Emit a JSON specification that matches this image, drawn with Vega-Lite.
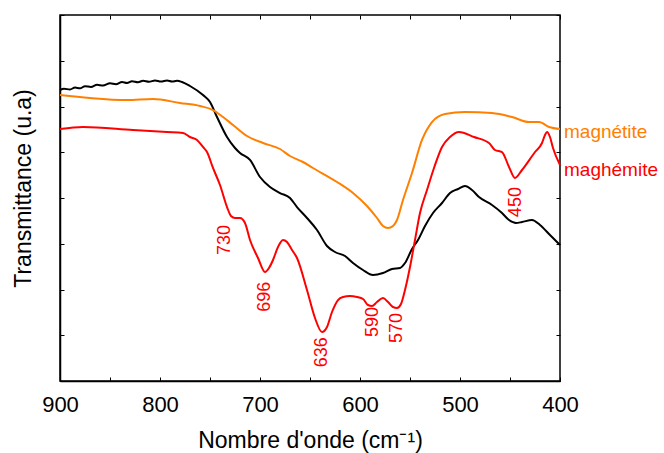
{
  "$schema": "https://vega.github.io/schema/vega-lite/v6.json",
  "width": 500,
  "height": 366,
  "autosize": "none",
  "padding": {"left": 60, "top": 15, "right": 104, "bottom": 72},
  "background": "white",
  "config": {
    "view": {"stroke": "black", "strokeWidth": 1.5},
    "font": "Liberation Sans",
    "axis": {"grid": false, "domainColor": "black", "tickColor": "black", "labelColor": "black", "titleColor": "black", "labelFont": "Liberation Sans", "titleFont": "Liberation Sans", "titleFontWeight": "normal"}
  },
  "datasets": {
    "spectra": [
      {"x": 900, "y": 6.361, "s": "c"}, {"x": 896, "y": 6.387, "s": "c"}, {"x": 890, "y": 6.372, "s": "c"}, {"x": 885, "y": 6.415, "s": "c"}, {"x": 880, "y": 6.398, "s": "c"}, {"x": 875, "y": 6.444, "s": "c"}, {"x": 869, "y": 6.426, "s": "c"}, {"x": 863, "y": 6.474, "s": "c"}, {"x": 857, "y": 6.457, "s": "c"}, {"x": 850, "y": 6.507, "s": "c"}, {"x": 844, "y": 6.487, "s": "c"}, {"x": 838, "y": 6.536, "s": "c"}, {"x": 833, "y": 6.514, "s": "c"}, {"x": 828, "y": 6.553, "s": "c"}, {"x": 822, "y": 6.531, "s": "c"}, {"x": 817, "y": 6.562, "s": "c"}, {"x": 811, "y": 6.540, "s": "c"}, {"x": 805, "y": 6.568, "s": "c"}, {"x": 799, "y": 6.544, "s": "c"}, {"x": 793, "y": 6.568, "s": "c"}, {"x": 788, "y": 6.546, "s": "c"}, {"x": 783, "y": 6.562, "s": "c"}, {"x": 778, "y": 6.536, "s": "c"}, {"x": 770, "y": 6.448, "s": "c"}, {"x": 757, "y": 6.251, "s": "c"}, {"x": 750, "y": 6.098, "s": "c"}, {"x": 743, "y": 5.770, "s": "c"}, {"x": 733, "y": 5.333, "s": "c"}, {"x": 725, "y": 5.093, "s": "c"}, {"x": 720, "y": 4.984, "s": "c"}, {"x": 710, "y": 4.831, "s": "c"}, {"x": 700, "y": 4.459, "s": "c"}, {"x": 690, "y": 4.240, "s": "c"}, {"x": 680, "y": 4.109, "s": "c"}, {"x": 670, "y": 4.000, "s": "c"}, {"x": 663, "y": 3.803, "s": "c"}, {"x": 653, "y": 3.563, "s": "c"}, {"x": 643, "y": 3.301, "s": "c"}, {"x": 633, "y": 2.951, "s": "c"}, {"x": 625, "y": 2.820, "s": "c"}, {"x": 615, "y": 2.732, "s": "c"}, {"x": 607, "y": 2.579, "s": "c"}, {"x": 597, "y": 2.426, "s": "c"}, {"x": 587, "y": 2.317, "s": "c"}, {"x": 577, "y": 2.361, "s": "c"}, {"x": 568, "y": 2.448, "s": "c"}, {"x": 560, "y": 2.470, "s": "c"}, {"x": 555, "y": 2.579, "s": "c"}, {"x": 548, "y": 2.885, "s": "c"}, {"x": 542, "y": 3.082, "s": "c"}, {"x": 535, "y": 3.388, "s": "c"}, {"x": 527, "y": 3.672, "s": "c"}, {"x": 518, "y": 3.891, "s": "c"}, {"x": 510, "y": 4.109, "s": "c"}, {"x": 502, "y": 4.197, "s": "c"}, {"x": 495, "y": 4.262, "s": "c"}, {"x": 488, "y": 4.175, "s": "c"}, {"x": 481, "y": 4.022, "s": "c"}, {"x": 468, "y": 3.847, "s": "c"}, {"x": 458, "y": 3.672, "s": "c"}, {"x": 451, "y": 3.519, "s": "c"}, {"x": 444, "y": 3.454, "s": "c"}, {"x": 438, "y": 3.475, "s": "c"}, {"x": 428, "y": 3.519, "s": "c"}, {"x": 420, "y": 3.410, "s": "c"}, {"x": 410, "y": 3.191, "s": "c"}, {"x": 400, "y": 2.973, "s": "c"},
      {"x": 900, "y": 6.251, "s": "magnetite"}, {"x": 870, "y": 6.186, "s": "magnetite"}, {"x": 833, "y": 6.142, "s": "magnetite"}, {"x": 807, "y": 6.164, "s": "magnetite"}, {"x": 780, "y": 6.077, "s": "magnetite"}, {"x": 760, "y": 6.011, "s": "magnetite"}, {"x": 747, "y": 5.923, "s": "magnetite"}, {"x": 737, "y": 5.770, "s": "magnetite"}, {"x": 727, "y": 5.596, "s": "magnetite"}, {"x": 713, "y": 5.355, "s": "magnetite"}, {"x": 697, "y": 5.202, "s": "magnetite"}, {"x": 680, "y": 5.071, "s": "magnetite"}, {"x": 670, "y": 4.918, "s": "magnetite"}, {"x": 657, "y": 4.787, "s": "magnetite"}, {"x": 647, "y": 4.656, "s": "magnetite"}, {"x": 623, "y": 4.350, "s": "magnetite"}, {"x": 607, "y": 4.109, "s": "magnetite"}, {"x": 593, "y": 3.825, "s": "magnetite"}, {"x": 583, "y": 3.563, "s": "magnetite"}, {"x": 577, "y": 3.388, "s": "magnetite"}, {"x": 572, "y": 3.344, "s": "magnetite"}, {"x": 567, "y": 3.388, "s": "magnetite"}, {"x": 563, "y": 3.519, "s": "magnetite"}, {"x": 557, "y": 3.956, "s": "magnetite"}, {"x": 548, "y": 4.546, "s": "magnetite"}, {"x": 538, "y": 5.268, "s": "magnetite"}, {"x": 528, "y": 5.661, "s": "magnetite"}, {"x": 515, "y": 5.836, "s": "magnetite"}, {"x": 495, "y": 5.880, "s": "magnetite"}, {"x": 468, "y": 5.858, "s": "magnetite"}, {"x": 448, "y": 5.770, "s": "magnetite"}, {"x": 431, "y": 5.661, "s": "magnetite"}, {"x": 421, "y": 5.661, "s": "magnetite"}, {"x": 411, "y": 5.552, "s": "magnetite"}, {"x": 400, "y": 5.508, "s": "magnetite"},
      {"x": 900, "y": 5.508, "s": "maghemite"}, {"x": 877, "y": 5.552, "s": "maghemite"}, {"x": 827, "y": 5.486, "s": "maghemite"}, {"x": 793, "y": 5.443, "s": "maghemite"}, {"x": 777, "y": 5.421, "s": "maghemite"}, {"x": 770, "y": 5.333, "s": "maghemite"}, {"x": 763, "y": 5.268, "s": "maghemite"}, {"x": 757, "y": 5.115, "s": "maghemite"}, {"x": 753, "y": 5.005, "s": "maghemite"}, {"x": 747, "y": 4.656, "s": "maghemite"}, {"x": 740, "y": 4.284, "s": "maghemite"}, {"x": 733, "y": 3.803, "s": "maghemite"}, {"x": 729, "y": 3.607, "s": "maghemite"}, {"x": 725, "y": 3.563, "s": "maghemite"}, {"x": 720, "y": 3.563, "s": "maghemite"}, {"x": 715, "y": 3.454, "s": "maghemite"}, {"x": 710, "y": 3.082, "s": "maghemite"}, {"x": 702, "y": 2.689, "s": "maghemite"}, {"x": 695, "y": 2.383, "s": "maghemite"}, {"x": 691, "y": 2.470, "s": "maghemite"}, {"x": 687, "y": 2.645, "s": "maghemite"}, {"x": 682, "y": 2.929, "s": "maghemite"}, {"x": 677, "y": 3.082, "s": "maghemite"}, {"x": 673, "y": 3.038, "s": "maghemite"}, {"x": 668, "y": 2.863, "s": "maghemite"}, {"x": 663, "y": 2.689, "s": "maghemite"}, {"x": 653, "y": 1.989, "s": "maghemite"}, {"x": 645, "y": 1.377, "s": "maghemite"}, {"x": 638, "y": 1.071, "s": "maghemite"}, {"x": 633, "y": 1.180, "s": "maghemite"}, {"x": 628, "y": 1.508, "s": "maghemite"}, {"x": 622, "y": 1.770, "s": "maghemite"}, {"x": 617, "y": 1.836, "s": "maghemite"}, {"x": 610, "y": 1.858, "s": "maghemite"}, {"x": 603, "y": 1.836, "s": "maghemite"}, {"x": 597, "y": 1.792, "s": "maghemite"}, {"x": 592, "y": 1.661, "s": "maghemite"}, {"x": 588, "y": 1.639, "s": "maghemite"}, {"x": 583, "y": 1.727, "s": "maghemite"}, {"x": 577, "y": 1.814, "s": "maghemite"}, {"x": 572, "y": 1.727, "s": "maghemite"}, {"x": 567, "y": 1.617, "s": "maghemite"}, {"x": 563, "y": 1.596, "s": "maghemite"}, {"x": 559, "y": 1.683, "s": "maghemite"}, {"x": 555, "y": 1.989, "s": "maghemite"}, {"x": 550, "y": 2.492, "s": "maghemite"}, {"x": 545, "y": 3.082, "s": "maghemite"}, {"x": 540, "y": 3.672, "s": "maghemite"}, {"x": 533, "y": 4.175, "s": "maghemite"}, {"x": 526, "y": 4.656, "s": "maghemite"}, {"x": 518, "y": 5.115, "s": "maghemite"}, {"x": 510, "y": 5.333, "s": "maghemite"}, {"x": 501, "y": 5.443, "s": "maghemite"}, {"x": 486, "y": 5.333, "s": "maghemite"}, {"x": 471, "y": 5.202, "s": "maghemite"}, {"x": 465, "y": 5.049, "s": "maghemite"}, {"x": 458, "y": 5.005, "s": "maghemite"}, {"x": 451, "y": 4.678, "s": "maghemite"}, {"x": 445, "y": 4.437, "s": "maghemite"}, {"x": 438, "y": 4.612, "s": "maghemite"}, {"x": 425, "y": 5.005, "s": "maghemite"}, {"x": 418, "y": 5.202, "s": "maghemite"}, {"x": 415, "y": 5.377, "s": "maghemite"}, {"x": 413, "y": 5.443, "s": "maghemite"}, {"x": 410, "y": 5.333, "s": "maghemite"}, {"x": 407, "y": 5.093, "s": "maghemite"}, {"x": 400, "y": 4.721, "s": "maghemite"}
    ],
    "peaks": [
      {"x": 735, "y": 3.08, "label": "730"},
      {"x": 695, "y": 1.84, "label": "696"},
      {"x": 638, "y": 0.63, "label": "636"},
      {"x": 587, "y": 1.29, "label": "590"},
      {"x": 563, "y": 1.16, "label": "570"},
      {"x": 444, "y": 3.91, "label": "450"}
    ],
    "names": [
      {"x": 400, "y": 5.311, "name": "magnétite", "s": "magnetite"},
      {"x": 400, "y": 4.481, "name": "maghémite", "s": "maghemite"}
    ]
  },
  "resolve": {"axis": {"x": "independent", "y": "independent"}},
  "layer": [
    {
      "data": {"name": "spectra"},
      "mark": {"type": "line", "strokeWidth": 2, "interpolate": "monotone"},
      "encoding": {
        "x": {"field": "x", "type": "quantitative", "scale": {"domain": [900, 400], "nice": false, "zero": false},
          "axis": {"orient": "bottom", "values": [900, 850, 800, 750, 700, 650, 600, 550, 500, 450, 400], "labelExpr": "datum.value % 100 === 0 ? datum.label : ''", "tickSize": -4, "labelPadding": 17, "labelFontSize": 22, "labelFlush": false, "domainWidth": 1.5, "title": "Nombre d'onde (cm⁻¹)", "titleFontSize": 23, "titleBaseline": "alphabetic", "titleY": 66, "titleX": 250}},
        "y": {"field": "y", "type": "quantitative", "scale": {"domain": [0, 8], "nice": false, "zero": false},
          "axis": {"orient": "left", "values": [0, 1, 2, 3, 4, 5, 6, 7, 8], "labels": false, "tickSize": -4, "domainWidth": 1.5, "title": "Transmittance (u.a)", "titleFontSize": 23, "titleAngle": 270, "titleAlign": "center", "titleBaseline": "middle", "titleX": -37, "titleY": 173}},
        "color": {"field": "s", "type": "nominal", "scale": {"domain": ["c", "magnetite", "maghemite"], "range": ["#000000", "#FF8000", "#FF0000"]}, "legend": null},
        "order": {"value": 0}
      }
    },
    {
      "data": {"name": "peaks"},
      "mark": {"type": "text", "angle": 270, "align": "center", "baseline": "middle", "fontSize": 18, "color": "#FF0000", "font": "Liberation Sans"},
      "encoding": {
        "x": {"field": "x", "type": "quantitative", "axis": {"orient": "top", "values": [900, 850, 800, 750, 700, 650, 600, 550, 500, 450, 400], "labels": false, "tickSize": -4, "domain": false, "title": null}},
        "y": {"field": "y", "type": "quantitative", "axis": {"orient": "right", "values": [0, 1, 2, 3, 4, 5, 6, 7, 8], "labels": false, "tickSize": -4, "domain": false, "title": null}},
        "text": {"field": "label"}
      }
    },
    {
      "data": {"name": "names"},
      "mark": {"type": "text", "align": "left", "baseline": "alphabetic", "dx": 4, "fontSize": 19, "font": "Liberation Sans"},
      "encoding": {
        "x": {"field": "x", "type": "quantitative", "axis": null},
        "y": {"field": "y", "type": "quantitative", "axis": null},
        "text": {"field": "name"},
        "color": {"field": "s", "type": "nominal", "legend": null}
      }
    }
  ]
}
